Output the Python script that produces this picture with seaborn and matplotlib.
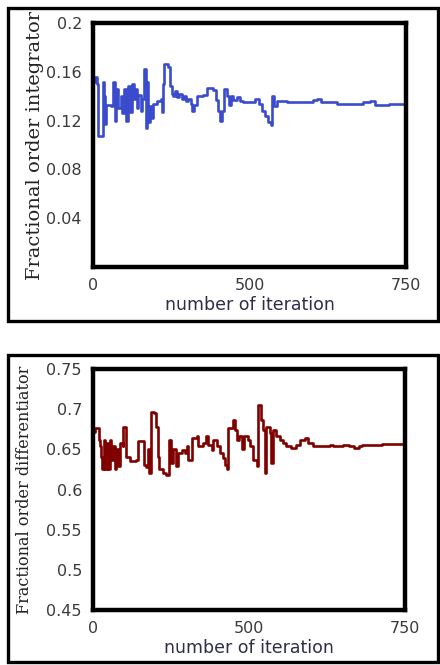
import numpy as np
import pandas as pd
import matplotlib
matplotlib.use("Agg")
import matplotlib.pyplot as plt
from matplotlib.patches import Rectangle
import seaborn as sns

# integrator order vs iteration
int_iter = [0, 5, 13, 17, 32, 35, 39, 43, 59, 64, 69, 75, 81, 88, 93, 99, 104, 111, 117, 124,
            131, 135, 139, 145, 152, 157, 163, 168, 172, 176, 181, 187, 192, 203, 216, 221,
            224, 228, 240, 245, 251, 256, 261, 267, 275, 283, 291, 296, 304, 312, 317, 324,
            331, 352, 363, 384, 392, 400, 405, 413, 420, 429, 435, 441, 448, 459, 469, 480,
            517, 531, 539, 549, 560, 568, 572, 579, 587, 619, 704, 717, 728, 779, 864, 885,
            901, 944, 1000]
int_val = [0.152, 0.156, 0.150, 0.107, 0.152, 0.140, 0.117, 0.133, 0.132, 0.152, 0.120,
           0.146, 0.130, 0.140, 0.126, 0.146, 0.120, 0.148, 0.127, 0.150, 0.138, 0.146,
           0.130, 0.141, 0.128, 0.138, 0.162, 0.114, 0.152, 0.119, 0.132, 0.122, 0.134,
           0.136, 0.138, 0.127, 0.150, 0.166, 0.164, 0.148, 0.142, 0.140, 0.144, 0.139,
           0.142, 0.138, 0.140, 0.136, 0.138, 0.134, 0.128, 0.133, 0.140, 0.141, 0.147,
           0.145, 0.137, 0.128, 0.120, 0.128, 0.146, 0.140, 0.133, 0.140, 0.137, 0.139,
           0.136, 0.135, 0.138, 0.134, 0.128, 0.124, 0.119, 0.116, 0.140, 0.132, 0.136,
           0.135, 0.137, 0.138, 0.135, 0.134, 0.135, 0.136, 0.133, 0.134, 0.134]

# differentiator order vs iteration
dif_iter = [0, 5, 19, 21, 27, 29, 35, 40, 45, 49, 53, 59, 64, 69, 75, 80, 85, 95, 96, 107,
            117, 139, 144, 163, 171, 176, 181, 187, 197, 201, 208, 213, 224, 235, 245, 251,
            256, 265, 272, 284, 295, 300, 305, 316, 332, 337, 353, 361, 369, 380, 385, 396,
            407, 417, 423, 429, 432, 444, 449, 455, 460, 468, 476, 483, 497, 503, 513, 524,
            529, 540, 545, 551, 556, 567, 572, 577, 588, 599, 609, 620, 636, 652, 663, 679,
            689, 705, 759, 769, 801, 819, 835, 851, 861, 925, 1000]
dif_val = [0.672, 0.677, 0.662, 0.654, 0.641, 0.625, 0.662, 0.625, 0.658, 0.625, 0.662,
           0.637, 0.654, 0.625, 0.650, 0.629, 0.658, 0.654, 0.678, 0.641, 0.636, 0.637,
           0.660, 0.630, 0.628, 0.650, 0.620, 0.697, 0.695, 0.678, 0.641, 0.625, 0.620,
           0.618, 0.662, 0.633, 0.650, 0.629, 0.645, 0.649, 0.645, 0.654, 0.637, 0.664,
           0.666, 0.654, 0.658, 0.666, 0.656, 0.649, 0.662, 0.654, 0.645, 0.639, 0.631,
           0.625, 0.676, 0.676, 0.687, 0.674, 0.662, 0.666, 0.650, 0.666, 0.662, 0.654,
           0.637, 0.629, 0.705, 0.687, 0.674, 0.620, 0.678, 0.670, 0.633, 0.674, 0.666,
           0.662, 0.658, 0.654, 0.652, 0.656, 0.662, 0.664, 0.658, 0.654, 0.656, 0.654,
           0.656, 0.654, 0.652, 0.654, 0.656, 0.657, 0.657]

# tick marks sit at the ends and middle; the original labels the right end "750"
x_ticks = [0, 500, 1000]
x_labels = ["0", "500", "750"]
int_ticks = [0, 0.04, 0.08, 0.12, 0.16, 0.2]
int_labels = ["", "0.04", "0.08", "0.12", "0.16", "0.2"]
dif_ticks = [0.45, 0.5, 0.55, 0.6, 0.65, 0.7, 0.75]
dif_labels = ["0.45", "0.5", "0.55", "0.6", "0.65", "0.7", "0.75"]

sns.set_style("white")

fig = plt.figure(figsize=(4.4, 6.65), dpi=100)
ax1 = fig.add_axes([0.2114, 0.5985, 0.7114, 0.3669])
ax2 = fig.add_axes([0.2114, 0.0827, 0.7091, 0.3624])

df1 = pd.DataFrame({"iter": int_iter, "val": int_val})
df2 = pd.DataFrame({"iter": dif_iter, "val": dif_val})

sns.lineplot(data=df1, x="iter", y="val", ax=ax1, color="#3a4ccc", lw=1.9,
             drawstyle="steps-post", estimator=None)
sns.lineplot(data=df2, x="iter", y="val", ax=ax2, color="#800000", lw=1.9,
             drawstyle="steps-post", estimator=None)

panels = [(ax1, (0, 0.2), int_ticks, int_labels, "Fractional order integrator", 14, -0.155),
          (ax2, (0.45, 0.75), dif_ticks, dif_labels, "Fractional order differentiator", 11.5, -0.192)]
for ax, ylim, yt, yl, ylab, yfs, lx in panels:
    ax.set_xlim(0, 1000)
    ax.set_ylim(*ylim)
    ax.set_xticks(x_ticks)
    ax.set_xticklabels(x_labels)
    ax.set_yticks(yt)
    ax.set_yticklabels(yl)
    ax.tick_params(axis="both", direction="out", length=3, width=0.8, color="#888888",
                   labelsize=11.5, labelcolor="#3a3a3a", pad=5)
    for s in ax.spines.values():
        s.set_visible(True)
        s.set_color("black")
        s.set_linewidth(3.2)
    ax.set_xlabel("number of iteration", fontsize=12.5, color="#2e2e48", labelpad=2)
    ax.set_ylabel(ylab, fontsize=yfs, family="DejaVu Serif", color="#222222")
    ax.yaxis.set_label_coords(lx, 0.5)

# outer boxes around each panel
W, H = 440, 665
for (x0, y0, x1, y1) in [(8, 8, 438, 321), (8, 355, 438, 662)]:
    fig.patches.append(Rectangle((x0 / W, 1 - y1 / H), (x1 - x0) / W, (y1 - y0) / H,
                                 transform=fig.transFigure, fill=False, lw=2.4,
                                 ec="black"))

fig.savefig("out.png", dpi=100)
